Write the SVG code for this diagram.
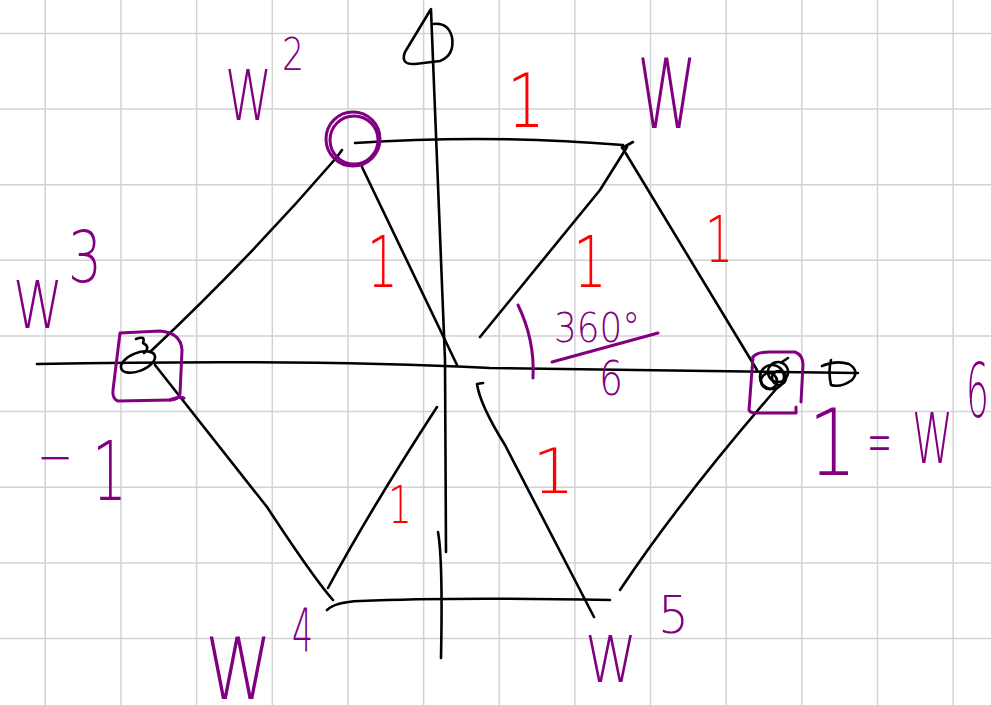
<svg xmlns="http://www.w3.org/2000/svg" width="991" height="705" viewBox="0 0 991 705">
<style>
.grid line{stroke:#d2d2d2;stroke-width:1.5}
.ink{fill:none;stroke:#000;stroke-width:2.6;stroke-linecap:round;stroke-linejoin:round}
.pen{fill:none;stroke:#800080;stroke-width:3;stroke-linecap:round;stroke-linejoin:round}
.lbl{font-family:'DejaVu Sans','Liberation Sans',sans-serif;font-weight:200;fill:#800080}
.red{font-family:'DejaVu Sans','Liberation Sans',sans-serif;font-weight:200;fill:#ff0000}
</style>
<rect width="991" height="705" fill="#fff"/>
<g class="grid">
<line x1="45.3" y1="0" x2="45.3" y2="705"/><line x1="121" y1="0" x2="121" y2="705"/><line x1="196.6" y1="0" x2="196.6" y2="705"/><line x1="272.3" y1="0" x2="272.3" y2="705"/><line x1="347.9" y1="0" x2="347.9" y2="705"/><line x1="423.6" y1="0" x2="423.6" y2="705"/><line x1="499.2" y1="0" x2="499.2" y2="705"/><line x1="574.9" y1="0" x2="574.9" y2="705"/><line x1="650.5" y1="0" x2="650.5" y2="705"/><line x1="726.2" y1="0" x2="726.2" y2="705"/><line x1="801.8" y1="0" x2="801.8" y2="705"/><line x1="877.5" y1="0" x2="877.5" y2="705"/><line x1="953.1" y1="0" x2="953.1" y2="705"/>
<line x1="0" y1="33.4" x2="991" y2="33.4"/><line x1="0" y1="109" x2="991" y2="109"/><line x1="0" y1="184.7" x2="991" y2="184.7"/><line x1="0" y1="260.3" x2="991" y2="260.3"/><line x1="0" y1="336" x2="991" y2="336"/><line x1="0" y1="411.6" x2="991" y2="411.6"/><line x1="0" y1="487.3" x2="991" y2="487.3"/><line x1="0" y1="562.9" x2="991" y2="562.9"/><line x1="0" y1="638.6" x2="991" y2="638.6"/>
</g>
<g id="axes">
<path class="ink" d="M37,364 C200,361 350,361 490,368 L858,373"/>
<path class="ink" d="M822,366 Q836,360 849,364 Q860,371 852,380 Q841,388 831,385 Q828,372 831,360"/>
<path class="ink" d="M431,10 L445,360 L446,552"/>
<path class="ink" d="M438,532 Q443,560 441,658"/>
<path class="ink" d="M431,9 L405,52 Q400,65 415,64 L440,61 Q455,55 452,37 Q448,22 433,24"/>
</g>
<g id="connectors">
<path class="ink" d="M355,143 Q490,134 623,145"/>
<path class="ink" d="M622,148 L633,142"/>
<path class="ink" d="M622,147 L757,370"/>
<path class="ink" d="M627,147 L600,190 L480,337"/>
<path class="ink" d="M342,150 L337,157 Q250,258 150,352"/>
<path class="ink" d="M362,167 L457,365"/>
<path class="ink" d="M155,365 L267,507 Q315,580 333,600"/>
<path class="ink" d="M328,588 Q370,510 437,407"/>
<path class="ink" d="M327,610 Q335,602 360,601 Q450,597 610,600"/>
<path class="ink" d="M483,383 L477,384 Q480,405 505,445 L594,617"/>
<path class="ink" d="M620,590 Q680,500 777,388"/>
</g>
<g id="node-w1">
<text class="lbl" font-size="97" transform="translate(637,128) scale(0.625,1)">W</text>
</g>
<g id="node-w2">
<circle class="pen" cx="353" cy="139" r="27" stroke-width="4"/>
<circle class="pen" cx="354" cy="140" r="24" stroke-width="2"/>
<text class="lbl" font-size="69" transform="translate(225,120) scale(0.688,1)">W</text>
<text class="lbl" x="282" y="70" font-size="45" textLength="22" lengthAdjust="spacingAndGlyphs">2</text>
</g>
<g id="node-w3">
<path class="pen" d="M120,333 L160,331 Q181,333 182,350 L180,394 Q178,400 170,400 L118,401 Q112,399 113,390 Z"/>
<path class="pen" d="M170,400 Q180,396 184,398"/>
<ellipse class="ink" cx="138" cy="362" rx="18" ry="9" transform="rotate(-22 138 362)"/>
<path class="ink" d="M136,339 Q146,335 143,343 Q151,347 144,353"/>
<text class="lbl" font-size="66" transform="translate(13,328) scale(0.765,1)">W</text>
<text class="lbl" x="68" y="282" font-size="71" textLength="34" lengthAdjust="spacingAndGlyphs">3</text>
<text class="lbl" font-size="60" transform="translate(37,477) scale(0.72,1)">−</text>
<text class="lbl" x="92" y="500" font-size="82" textLength="35" lengthAdjust="spacingAndGlyphs">1</text>
</g>
<g id="node-w4">
<text class="lbl" font-size="85" transform="translate(205,699) scale(0.796,1)">W</text>
<text class="lbl" x="292" y="652" font-size="60" textLength="21" lengthAdjust="spacingAndGlyphs">4</text>
</g>
<g id="node-w5">
<text class="lbl" font-size="64" transform="translate(585,682) scale(0.82,1)">W</text>
<text class="lbl" x="658" y="633" font-size="52" textLength="31" lengthAdjust="spacingAndGlyphs">5</text>
</g>
<g id="node-w6">
<path class="pen" d="M753,357 Q757,352 770,352 L795,352 Q803,355 803,365 L801,402"/>
<path class="pen" d="M753,357 L749,410 Q750,413 756,413 L796,413 L796,407"/>
<circle class="ink" cx="772" cy="377" r="12"/>
<circle class="ink" cx="778" cy="372" r="10"/>
<circle class="ink" cx="769" cy="381" r="8"/>
<circle class="ink" cx="779" cy="378" r="7"/>
<path class="ink" d="M782,362 L788,358"/>
<text class="lbl" x="808" y="475" font-size="92" textLength="49" lengthAdjust="spacingAndGlyphs">1</text>
<text class="lbl" font-size="70" transform="translate(867,465) scale(0.426,1)">=</text>
<text class="lbl" font-size="69" transform="translate(912,463) scale(0.6,1)">W</text>
<text class="lbl" font-size="75" transform="translate(966,417) scale(0.48,1)">6</text>
</g>
<g id="angle">
<path class="pen" d="M518,305 Q535,340 533,378"/>
<path class="pen" d="M552,362 L658,333"/>
<text class="lbl" x="554" y="342" font-size="41" textLength="86" lengthAdjust="spacingAndGlyphs">360°</text>
<text class="lbl" x="599" y="395" font-size="48" textLength="24" lengthAdjust="spacingAndGlyphs">6</text>
</g>
<g id="edge-labels">
<text class="red" x="507" y="127" font-size="74" textLength="38" lengthAdjust="spacingAndGlyphs">1</text>
<text class="red" x="705" y="262" font-size="64" textLength="28" lengthAdjust="spacingAndGlyphs">1</text>
<text class="red" x="573" y="287" font-size="71" textLength="34" lengthAdjust="spacingAndGlyphs">1</text>
<text class="red" x="367" y="287" font-size="71" textLength="31" lengthAdjust="spacingAndGlyphs">1</text>
<text class="red" x="388" y="523" font-size="52" textLength="24" lengthAdjust="spacingAndGlyphs">1</text>
<text class="red" x="532" y="493" font-size="62" textLength="43" lengthAdjust="spacingAndGlyphs">1</text>
</g>
</svg>
